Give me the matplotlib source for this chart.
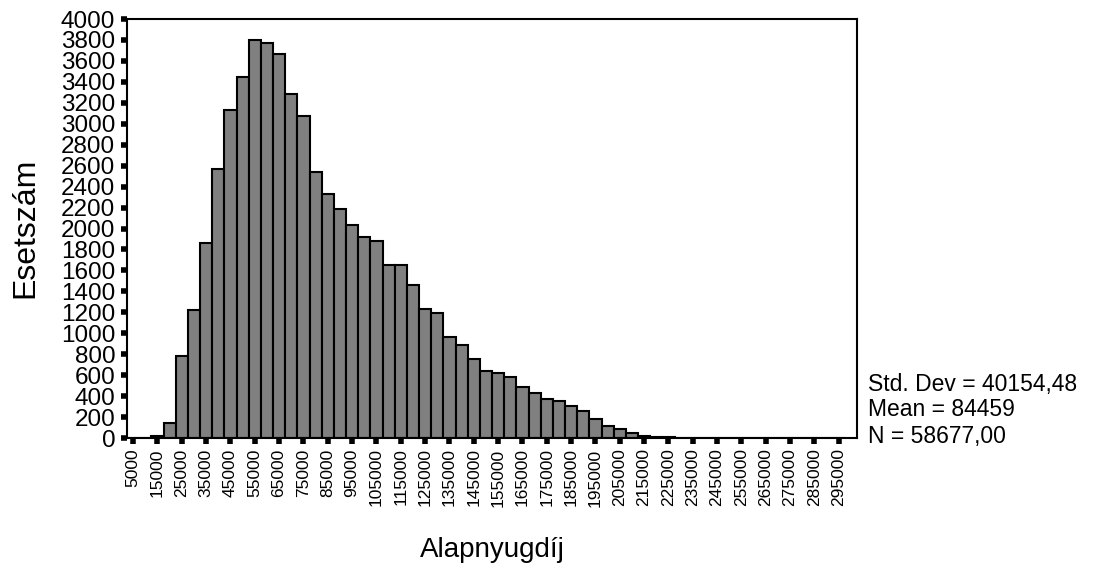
import numpy as np
import matplotlib
matplotlib.use('Agg')
import matplotlib.pyplot as plt

plt.rcParams['font.family'] = ['Liberation Sans', 'DejaVu Sans']

# bin centres (width 5000) and counts
bin_centers = list(range(5000, 300000, 5000))
counts = [0, 4, 15, 140, 780, 1220, 1865, 2570, 3135, 3450,
          3795, 3775, 3665, 3280, 3070, 2535, 2325, 2185, 2035, 1920,
          1885, 1650, 1650, 1460, 1230, 1190, 960, 885, 755, 640,
          620, 580, 485, 428, 373, 350, 308, 255, 182, 118,
          83, 45, 22, 10, 10, 0, 0, 0, 0, 0,
          0, 0, 0, 0, 0, 0, 0, 0, 0]
xtick_vals = list(range(5000, 300000, 10000))
ytick_vals = list(range(0, 4001, 200))
stats = ['Std. Dev = 40154,48', 'Mean = 84459', 'N = 58677,00']

fig = plt.figure(figsize=(10.93, 5.69), dpi=100)
ax = fig.add_axes([0.1162, 0.2302, 0.6679, 0.7364])

ax.bar(bin_centers, counts, width=5000, color='#808080',
       edgecolor='black', linewidth=1.5)

ax.set_xlim(2500, 302500)
ax.set_ylim(0, 4000)

ax.set_xticks(xtick_vals)
ax.set_xticklabels([str(v) for v in xtick_vals], rotation=90, fontsize=12.5)
ax.set_yticks(ytick_vals)
ax.set_yticklabels([str(v) for v in ytick_vals], fontsize=17.5)
ax.tick_params(axis='both', length=4.5, width=4, color='black')
ax.tick_params(axis='y', pad=4)
ax.tick_params(axis='x', pad=3)

for s in ax.spines.values():
    s.set_linewidth(1.5)

fig.text(0.023, 0.5995, 'Esetszám', rotation=90, fontsize=23,
         ha='center', va='center')
fig.text(0.4506, 0.0334, 'Alapnyugdíj', fontsize=20, ha='center',
         va='center')

y0 = 569 - 384
for i, line in enumerate(stats):
    fig.text(868 / 1093, (y0 - i * 26) / 569, line, fontsize=16.5,
             ha='left', va='center')

fig.savefig('out.png', dpi=100)
